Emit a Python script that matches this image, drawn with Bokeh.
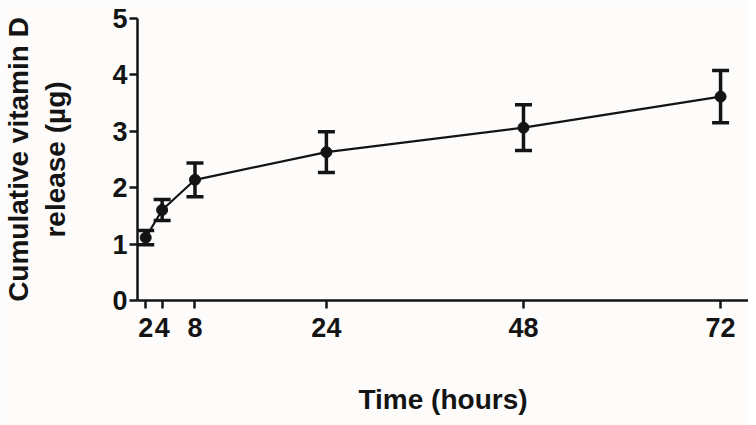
from bokeh.plotting import figure
from bokeh.models import FixedTicker, Whisker, ColumnDataSource, Range1d, TeeHead
from bokeh.embed import file_html
from bokeh.resources import INLINE

time_h = [2, 4, 8, 24, 48, 72]
release_mean = [1.115, 1.605, 2.14, 2.63, 3.065, 3.615]
release_err = [0.125, 0.185, 0.30, 0.36, 0.405, 0.465]
x_ticks = [2, 4, 8, 24, 48, 72]
y_ticks = [0, 1, 2, 3, 4, 5]

ink = "#141414"
bg = "#fdfcfa"
font = "Liberation Sans"

src = ColumnDataSource(dict(
    x=time_h, y=release_mean,
    lo=[m - e for m, e in zip(release_mean, release_err)],
    hi=[m + e for m, e in zip(release_mean, release_err)],
))

p = figure(width=748, height=425, output_backend="svg", toolbar_location=None,
           x_range=Range1d(1, 75.4), y_range=Range1d(0, 5),
           min_border_left=135, min_border_right=0, min_border_top=18, min_border_bottom=125)
p.background_fill_color = bg
p.border_fill_color = bg
p.outline_line_color = None
p.grid.visible = False

p.line("x", "y", source=src, line_color=ink, line_width=2.2)
w = Whisker(base="x", lower="lo", upper="hi", source=src, line_color=ink, line_width=3.5,
            upper_head=TeeHead(size=17, line_color=ink, line_width=3.5),
            lower_head=TeeHead(size=17, line_color=ink, line_width=3.5))
p.add_layout(w)
p.scatter("x", "y", source=src, size=11, fill_color=ink, line_color=ink)

for ax in (p.xaxis[0], p.yaxis[0]):
    ax.axis_line_color = ink
    ax.axis_line_width = 2.5
    ax.major_tick_line_color = ink
    ax.major_tick_line_width = 2.5
    ax.major_tick_out = 8
    ax.major_tick_in = 0
    ax.minor_tick_line_color = None
    ax.major_label_text_font = font
    ax.major_label_text_font_style = "bold"
    ax.major_label_text_font_size = "27px"
    ax.major_label_text_color = ink
    ax.axis_label_text_font = font
    ax.axis_label_text_font_style = "bold"
    ax.axis_label_text_font_size = "28px"
    ax.axis_label_text_color = ink

p.xaxis.ticker = FixedTicker(ticks=x_ticks)
p.yaxis.ticker = FixedTicker(ticks=y_ticks)
p.xaxis.major_label_standoff = 9
p.yaxis.major_label_standoff = 2
p.xaxis.axis_label = "Time (hours)"
p.yaxis.axis_label = "Cumulative vitamin D\nrelease (\u00b5g)"
p.yaxis.axis_label_text_line_height = 1.2
p.xaxis.axis_label_standoff = 44
p.yaxis.axis_label_standoff = 38

open("out.html", "w").write(file_html(p, INLINE))
